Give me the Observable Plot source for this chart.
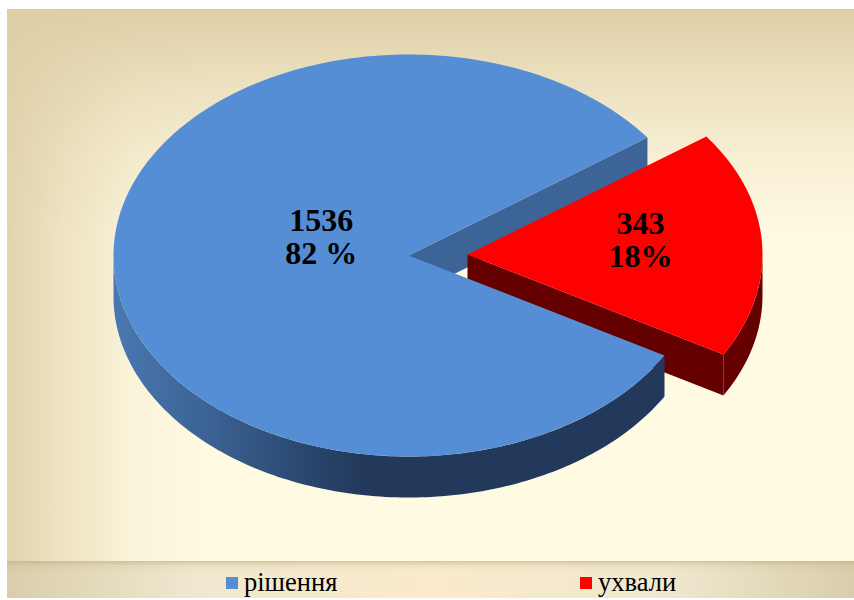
<!DOCTYPE html>
<html>
<head>
<meta charset="utf-8">
<script src="https://cdn.jsdelivr.net/npm/d3@7"></script>
<script src="https://cdn.jsdelivr.net/npm/@observablehq/plot@0.6"></script>
<style>
html,body{margin:0;padding:0;background:#fff;overflow:hidden;width:854px;height:600px}
#panel{position:absolute;left:7px;top:9px;width:847px;height:552px;
 background:
  linear-gradient(to bottom,rgba(222,206,166,1) 0%,rgba(222,206,166,.62) 12%,rgba(222,206,166,.25) 26%,rgba(222,206,166,0) 42%),
  linear-gradient(to right,rgba(222,206,166,.85) 0%,rgba(222,206,166,.5) 7%,rgba(222,206,166,.15) 15%,rgba(222,206,166,0) 24%),
  #fffae2;}
#legend{position:absolute;left:7px;top:561px;width:847px;height:37px;
 background:
  linear-gradient(to bottom,rgba(190,170,125,.55) 0,rgba(190,170,125,.12) 5px,rgba(190,170,125,0) 12px),
  linear-gradient(to right,#d9cdab 0%,#efe8cf 22%,#fbeacd 50%,#efe8cf 78%,#d9cdab 100%);
 color:#000;}
.key{position:absolute;top:0;height:37px;line-height:37px;white-space:nowrap}
.key i{position:absolute;left:0;top:16px;width:12px;height:12px}
.key span{position:absolute;top:6px;left:18px;line-height:30px;font-family:"Liberation Serif","Times New Roman",serif;font-size:26.5px}
</style>
</head>
<body>
<div id="panel"></div>
<div id="legend"></div>
<script>
const categories = ["рішення", "ухвали"];
const values = [1536, 343];
const percentLabels = ["82 %", "18%"];
const colors = ["#558ed5", "#ff0000"];
const sideColors = ["#3d6496", "#640000"];

const turn = 2 * Math.PI;
const deg = turn / 360;
const startAngle = 119.8 * deg;          // first slice starts here, clockwise from 12 o'clock
const explode = [[0, 0], [0.2, -0.005]]; // slice offset, in radii
const depth = 0.204;                     // thickness, in vertical radii
const labelRadius = [0.3, 0.587];
const labelDx = [1, 0];
const labelDy = [-21.5, -8];

const slices = d3.pie().sort(null).startAngle(startAngle).endAngle(startAngle + turn)(values);

function arcPoints(a0, a1, ox, oy) {
  const n = Math.max(2, Math.ceil((a1 - a0) / deg));
  return d3.range(n + 1).map(i => {
    const a = a0 + (a1 - a0) * i / n;
    return {x: ox + Math.sin(a), y: oy - Math.cos(a)};
  });
}
const shift = (pts, d) => pts.map(p => ({x: p.x, y: p.y + d}));

// top faces
const topFaces = slices.map((s, i) => {
  const [ox, oy] = explode[i];
  return [{x: ox, y: oy}, ...arcPoints(s.startAngle, s.endAngle, ox, oy)];
});

// outer rim: only the part facing the viewer (lower half of the circle)
function rim(a0, a1, i) {
  const [ox, oy] = explode[i];
  const arc = arcPoints(a0, a1, ox, oy);
  return [...arc, ...shift(arc, depth).reverse()];
}
// flat cut face running from the centre to the rim at angle a
function cut(a, i) {
  const [ox, oy] = explode[i];
  const p = [{x: ox, y: oy}, {x: ox + Math.sin(a), y: oy - Math.cos(a)}];
  return [...p, ...shift(p, depth).reverse()];
}

const poly = (pts, fill) => Plot.line(pts, {x: "x", y: "y", fill, stroke: "none", curve: "linear"});

const gradient = () => {
  const ns = "http://www.w3.org/2000/svg";
  const defs = document.createElementNS(ns, "defs");
  const g = document.createElementNS(ns, "linearGradient");
  g.setAttribute("id", "blueRim");
  [[0, "#4a78b2"], [0.18, "#3b6192"], [0.31, "#2c4d77"], [0.45, "#23395b"], [1, "#23395b"]].forEach(([o, c]) => {
    const st = document.createElementNS(ns, "stop");
    st.setAttribute("offset", o);
    st.setAttribute("stop-color", c);
    g.appendChild(st);
  });
  defs.appendChild(g);
  return defs;
};

const labels = slices.map((s, i) => {
  const mid = (s.startAngle + s.endAngle) / 2;
  return {
    x: explode[i][0] + labelRadius[i] * Math.sin(mid),
    y: explode[i][1] - labelRadius[i] * Math.cos(mid),
    text: values[i] + "\n" + percentLabels[i]
  };
});

const labelMark = i => Plot.text([labels[i]], {
  x: "x", y: "y", text: "text", dx: labelDx[i], dy: labelDy[i],
  fontSize: 32, fontWeight: "bold", fontFamily: "Liberation Serif", lineHeight: 1.02,
  fill: "#000", textAnchor: "middle"
});

const chart = Plot.plot({
  width: 847,
  height: 552,
  margin: 0,
  style: {background: "transparent"},
  x: {domain: [-1, 1], range: [106, 696], axis: null},
  y: {domain: [-1, 1], range: [45, 447], axis: null},
  marks: [
    gradient,
    // blue cut face behind the gap
    poly(cut(slices[0].endAngle, 0), sideColors[0]),
    // exploded red slice
    poly(cut(slices[1].endAngle, 1), sideColors[1]),
    poly(rim(turn / 4 + turn, slices[1].endAngle, 1), sideColors[1]),
    poly(topFaces[1], colors[1]),
    // blue body
    poly(rim(slices[0].startAngle, 3 * turn / 4, 0), "url(#blueRim)"),
    poly(topFaces[0], colors[0]),
    labelMark(0),
    labelMark(1)
  ]
});
document.getElementById("panel").appendChild(chart);

const legend = document.getElementById("legend");
const keyLeft = [219, 573];
categories.forEach((c, i) => {
  const d = document.createElement("div");
  d.className = "key";
  d.style.left = keyLeft[i] + "px";
  d.innerHTML = `<i style="background:${colors[i]}"></i><span>${c}</span>`;
  legend.appendChild(d);
});
</script>
</body>
</html>
